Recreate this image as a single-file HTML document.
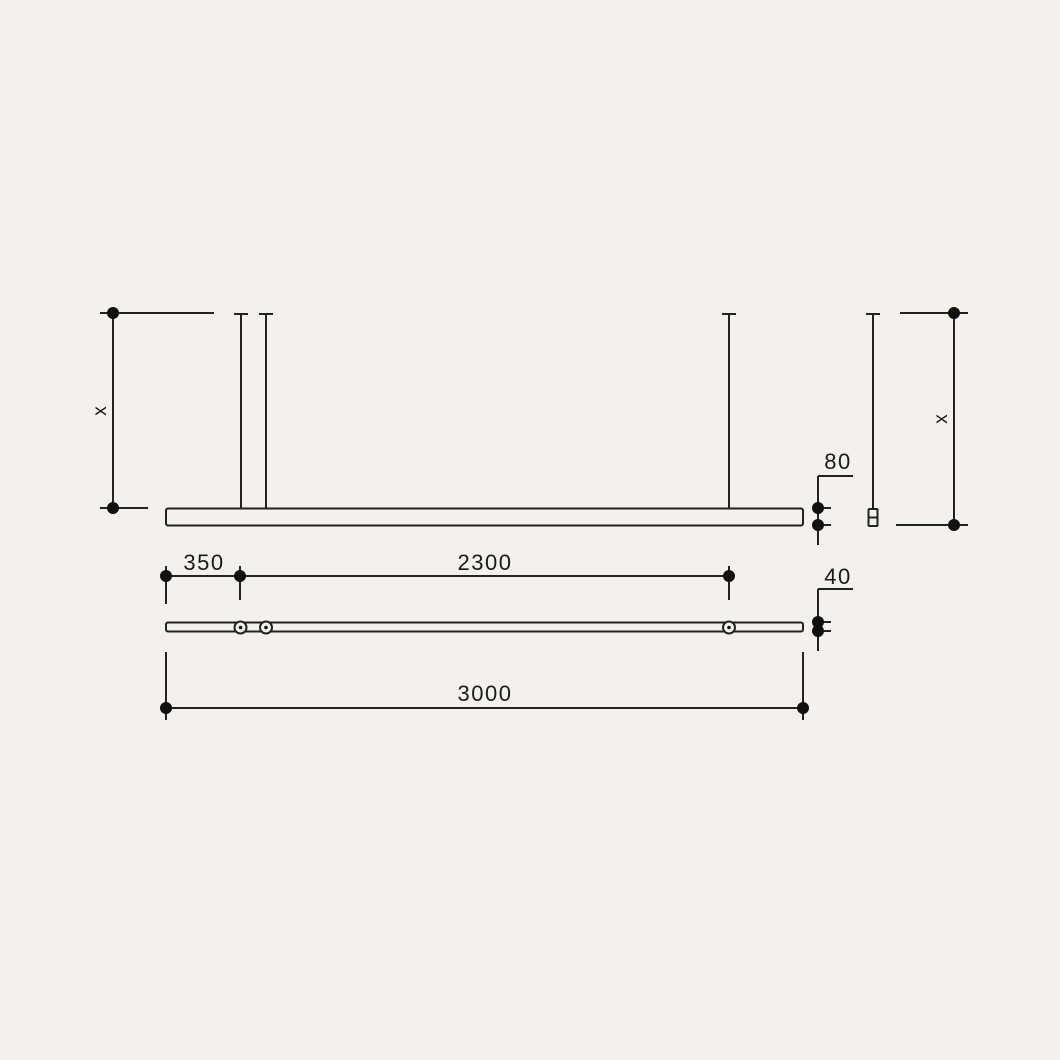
<!DOCTYPE html>
<html><head><meta charset="utf-8"><style>
html,body{margin:0;padding:0;background:#f4f1ec;}
svg{display:block;}
text{font-family:"Liberation Sans",sans-serif;fill:#1a1a1a;}
</style></head><body>
<svg width="1060" height="1060" viewBox="0 0 1060 1060" xmlns="http://www.w3.org/2000/svg">
<rect width="1060" height="1060" fill="#f4f1ec"/>
<g stroke="#222" stroke-width="2" fill="none">
<line x1="113" y1="313" x2="113" y2="508"/>
<line x1="100" y1="313" x2="214" y2="313"/>
<line x1="100" y1="508" x2="148" y2="508"/>
<line x1="241" y1="313" x2="241" y2="508"/>
<line x1="234" y1="314" x2="248" y2="314"/>
<line x1="266" y1="313" x2="266" y2="508"/>
<line x1="259" y1="314" x2="273" y2="314"/>
<line x1="729" y1="313" x2="729" y2="508"/>
<line x1="722" y1="314" x2="736" y2="314"/>
<rect x="166" y="508.5" width="637" height="17" rx="2"/>
<line x1="818" y1="476" x2="818" y2="545"/>
<line x1="818" y1="476" x2="853" y2="476"/>
<line x1="818" y1="508" x2="831" y2="508"/>
<line x1="818" y1="525" x2="831" y2="525"/>
<line x1="873" y1="313" x2="873" y2="509"/>
<line x1="866" y1="314" x2="880" y2="314"/>
<rect x="868.5" y="509" width="9" height="17" rx="1"/>
<line x1="868.5" y1="517.5" x2="877.5" y2="517.5"/>
<line x1="954" y1="313" x2="954" y2="525"/>
<line x1="900" y1="313" x2="968" y2="313"/>
<line x1="896" y1="525" x2="968" y2="525"/>
<line x1="166" y1="576" x2="729" y2="576"/>
<line x1="166" y1="566" x2="166" y2="604"/>
<line x1="240" y1="566" x2="240" y2="600"/>
<line x1="729" y1="566" x2="729" y2="600"/>
<rect x="166" y="622.5" width="637" height="9" rx="2"/>
<circle cx="240.5" cy="627.5" r="6" fill="#f4f1ec"/>
<circle cx="266" cy="627.5" r="6" fill="#f4f1ec"/>
<circle cx="729" cy="627.5" r="6" fill="#f4f1ec"/>
<line x1="818" y1="589" x2="818" y2="651"/>
<line x1="818" y1="589" x2="853" y2="589"/>
<line x1="818" y1="622" x2="831" y2="622"/>
<line x1="818" y1="631" x2="831" y2="631"/>
<line x1="166" y1="708" x2="803" y2="708"/>
<line x1="166" y1="652" x2="166" y2="720"/>
<line x1="803" y1="652" x2="803" y2="720"/>
</g>
<g fill="#111">
<circle cx="113" cy="313" r="6"/>
<circle cx="113" cy="508" r="6"/>
<circle cx="818" cy="508" r="6"/>
<circle cx="818" cy="525" r="6"/>
<circle cx="954" cy="313" r="6"/>
<circle cx="954" cy="525" r="6"/>
<circle cx="166" cy="576" r="6"/>
<circle cx="240" cy="576" r="6"/>
<circle cx="729" cy="576" r="6"/>
<circle cx="818" cy="622" r="6"/>
<circle cx="818" cy="631" r="6"/>
<circle cx="166" cy="708" r="6"/>
<circle cx="803" cy="708" r="6"/>
<circle cx="240.5" cy="627.5" r="1.8"/>
<circle cx="266" cy="627.5" r="1.8"/>
<circle cx="729" cy="627.5" r="1.8"/>
</g>
<g font-size="22" letter-spacing="1.5" text-anchor="middle">
<text x="204" y="570">350</text>
<text x="485" y="570">2300</text>
<text x="485" y="701">3000</text>
<text x="838" y="469">80</text>
<text x="838" y="584">40</text>
</g>
<text x="101" y="411" font-size="19" text-anchor="middle" dominant-baseline="middle" transform="rotate(-90 101 411)">x</text>
<text x="942" y="419" font-size="19" text-anchor="middle" dominant-baseline="middle" transform="rotate(-90 942 419)">x</text>
</svg>
</body></html>
